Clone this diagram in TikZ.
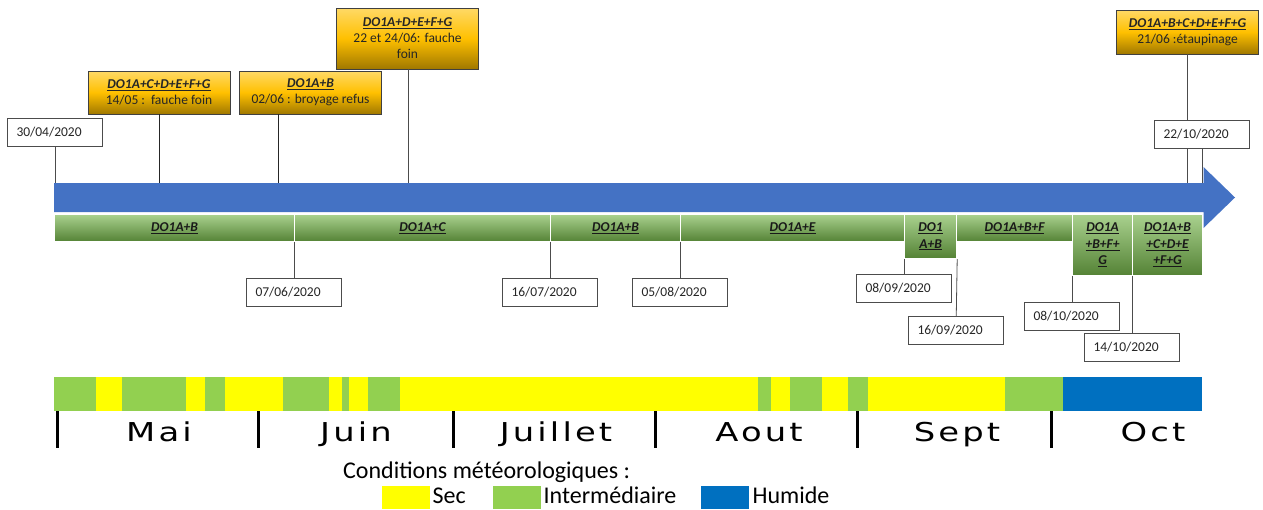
\documentclass[tikz,border=0pt]{standalone}
\usepackage{fontspec}
\setmainfont{Carlito}
\newfontfamily\monthfont[LetterSpace=12,FakeStretch=1.3]{DejaVu Sans}
\usetikzlibrary{positioning}

\definecolor{arrowblue}{RGB}{68,114,196}
\definecolor{goldtop}{RGB}{255,217,102}
\definecolor{goldmid}{RGB}{255,192,0}
\definecolor{goldbot}{RGB}{160,120,0}
\definecolor{phasetop}{RGB}{169,209,142}
\definecolor{phasebot}{RGB}{84,130,53}
\definecolor{sec}{RGB}{255,255,0}
\definecolor{inter}{RGB}{146,208,80}
\definecolor{humide}{RGB}{0,112,192}
\definecolor{darktext}{RGB}{38,38,38}

\newcommand{\ptxt}[1]{\textbf{\textit{\underline{#1}}}}

\tikzset{
  event/.style={draw=black!75, line width=0.9pt, top color=goldtop, bottom color=goldbot, middle color=goldmid,
    minimum width=142pt, align=center, inner sep=2pt, text=darktext, font=\fontsize{13.5}{16}\selectfont},
  datebox/.style={draw=black!70, line width=0.9pt, fill=white, text width=77pt, inner xsep=9pt, inner ysep=0pt,
    minimum height=28pt, align=left, text=darktext, font=\fontsize{13.5}{16}\selectfont},
  phase/.style={draw=white, line width=1.2pt, top color=phasetop, bottom color=phasebot, anchor=north west,
    inner sep=0pt, align=center, text=black!90, font=\fontsize{13.5}{16.5}\selectfont},
  link/.style={draw=black!70, line width=0.8pt},
  month/.style={anchor=base, font=\monthfont\fontsize{26}{30}\selectfont},
  swatch/.style={minimum width=48pt, minimum height=23pt, inner sep=0pt, anchor=north west},
  legtext/.style={inner sep=0pt, text height=16pt, text depth=0pt, font=\fontsize{24}{28}\selectfont},
}

\begin{document}
\begin{tikzpicture}[x=1pt,y=-1pt]
\useasboundingbox (0,0) rectangle (1263,509);

% time arrow
\fill[arrowblue] (54,183) -- (1203.5,183) -- (1203.5,167) -- (1235,197.5) -- (1203.5,228)
  -- (1203.5,212) -- (54,212) -- cycle;
\coordinate (a0) at (55,183);
\coordinate (a1) at (159,183);
\coordinate (a2) at (278,183);
\coordinate (a3) at (408,183);
\coordinate (a4) at (1187,183);
\coordinate (a5) at (1202,183);

% interventions
\node[event, minimum height=43pt] (ev1) at (159,92.5) {\ptxt{DO1A+C+D+E+F+G}\\14/05 :\ \ fauche foin};
\node[event, minimum height=43pt] (ev2) at (310.5,92.5) {\ptxt{DO1A+B}\\02/06 : broyage refus};
\node[event, minimum height=61pt] (ev3) at (407.5,38.5) {\ptxt{DO1A+D+E+F+G}\\22 et 24/06: fauche\\foin};
\node[event, minimum height=44pt] (ev4) at (1187.5,32) {\ptxt{DO1A+B+C+D+E+F+G}\\21/06 :étaupinage};
\draw[link, draw=black!85] (ev1.south -| a1) -- (a1);
\draw[link, draw=black!85] (ev2.south -| a2) -- (a2);
\draw[link] (ev3.south -| a3) -- (a3);
\draw[link] (ev4.south -| a4) -- (a4);

% start and end
\node[datebox] (d3004) at (55,132) {30/04/2020};
\node[datebox] (d2210) at (1202,134) {22/10/2020};
\draw[link] (d3004) -- (a0);
\draw[link] (d2210) -- (a5);

% phases
\node[phase, minimum width=240pt, minimum height=27pt] (p1) at (54,214) {\ptxt{DO1A+B}};
\node[phase, minimum width=256pt, minimum height=27pt] (p2) at (294,214) {\ptxt{DO1A+C}};
\node[phase, minimum width=130pt, minimum height=27pt] (p3) at (550,214) {\ptxt{DO1A+B}};
\node[phase, minimum width=224pt, minimum height=27pt] (p4) at (680,214) {\ptxt{DO1A+E}};
\node[phase, minimum width=52pt, minimum height=44pt] (p5) at (904,214) {\ptxt{DO1}\\\ptxt{A+B}};
\node[phase, minimum width=116pt, minimum height=27pt] (p6) at (956,214) {\ptxt{DO1A+B+F}};
\node[phase, minimum width=60pt, minimum height=61pt] (p7) at (1072,214) {\ptxt{DO1A}\\\ptxt{+B+F+}\\\ptxt{G}};
\node[phase, minimum width=70pt, minimum height=61pt] (p8) at (1132,214) {\ptxt{DO1A+B}\\\ptxt{+C+D+E}\\\ptxt{+F+G}};

% phase changes
\node[datebox] (d0706) at (294,292) {07/06/2020};
\node[datebox] (d1607) at (550,292) {16/07/2020};
\node[datebox] (d0508) at (680,292) {05/08/2020};
\node[datebox] (d0809) at (904,288) {08/09/2020};
\node[datebox] (d1609) at (956,330.5) {16/09/2020};
\node[datebox] (d0810) at (1072,316) {08/10/2020};
\node[datebox] (d1410) at (1132,347) {14/10/2020};
\draw[link] (p2.south west) -- (d0706);
\draw[link] (p3.south west) -- (d1607);
\draw[link] (p4.south west) -- (d0508);
\draw[link] (p5.south west) -- (d0809);
\draw[link] (p5.south east) -- (d1609);
\draw[link] (p7.south west) -- (d0810);
\draw[link] (p8.south west) -- (d1410);

% weather
\foreach \xa/\xb/\c in {54/96/inter, 96/122/sec, 122/186/inter, 186/205/sec, 205/225/inter, 225/283/sec,
  283/329/inter, 329/342/sec, 342/349/inter, 349/368/sec, 368/400/inter, 400/758/sec, 758/771/inter,
  771/790/sec, 790/822/inter, 822/848/sec, 848/868/inter, 868/1005/sec, 1005/1063/inter, 1063/1202/humide}
  \fill[\c] (\xa,377) rectangle (\xb,411);
\foreach \x in {57,258,453,655,857,1051}
  \draw[line width=3pt] (\x,411) -- (\x,448);
\node[month] (mai) at (159,441) {Mai};
\node[month] (juin) at (356,441) {Juin};
\node[month] (juillet) at (556,441) {Juillet};
\node[month] (aout) at (759,441) {Aout};
\node[month] (sept) at (957,441) {Sept};
\node[month] (oct) at (1153,441) {Oct};

% legend
\node[legtext, anchor=base west] (cond) at (343,478) {Conditions météorologiques :};
\node[swatch, fill=sec] (lsec) at (382,486) {};
\node[legtext, right=2pt of lsec, yshift=2pt] {Sec};
\node[swatch, fill=inter] (linter) at (493,486) {};
\node[legtext, right=2pt of linter, yshift=2pt] {Intermédiaire};
\node[swatch, fill=humide] (lhum) at (701,486) {};
\node[legtext, right=3pt of lhum, yshift=2pt] {Humide};
\end{tikzpicture}
\end{document}
